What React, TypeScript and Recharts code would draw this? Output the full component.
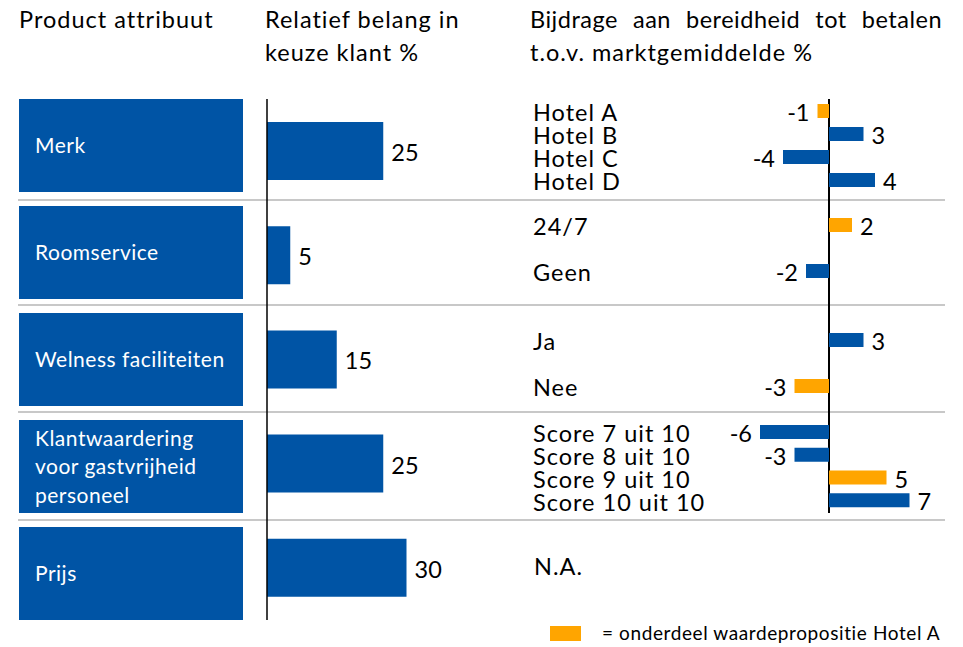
import React from 'react';
import { BarChart, Bar, XAxis, YAxis, LabelList, Cell } from 'recharts';

// ---------- data ----------
const attributes = ['Merk', 'Roomservice', 'Welness faciliteiten', 'Klantwaardering\nvoor gastvrijheid\npersoneel', 'Prijs'];
const importance = [25, 5, 15, 25, 30];

const hotelLabels = ['Hotel A', 'Hotel B', 'Hotel C', 'Hotel D'];
const hotelValues = [-1, 3, -4, 4];
const hotelHighlight = [true, false, false, false];

const roomLabels = ['24/7', 'Geen'];
const roomValues = [2, -2];
const roomHighlight = [true, false];

const wellLabels = ['Ja', 'Nee'];
const wellValues = [3, -3];
const wellHighlight = [false, true];

const scoreLabels = ['Score 7 uit 10', 'Score 8 uit 10', 'Score 9 uit 10', 'Score 10 uit 10'];
const scoreValues = [-6, -3, 5, 7];
const scoreHighlight = [false, false, true, false];

const headers = ['Product attribuut', 'Relatief belang in\nkeuze klant %', 'Bijdrage aan bereidheid tot betalen', 't.o.v. marktgemiddelde %'];
const naText = 'N.A.';
const legendText = '= onderdeel waardepropositie Hotel A';

// ---------- style ----------
const BLUE = '#0054A5';
const ORANGE = '#FFA500';
const GRAY = '#C8C8C8';
const FONT = 'Lato, "Open Sans", sans-serif';
const FS = 23.5;
const LS = 1;

const leftData = attributes.map((a, i) => ({ name: a, value: importance[i] }));

const PAD = 8;
const groups = [
  { labels: hotelLabels, values: hotelValues, hl: hotelHighlight, top: 99, height: 92 },
  { labels: roomLabels, values: roomValues, hl: roomHighlight, top: 202, height: 92 },
  { labels: wellLabels, values: wellValues, hl: wellHighlight, top: 317, height: 92 },
  { labels: scoreLabels, values: scoreValues, hl: scoreHighlight, top: 421, height: 91 },
];

const boxTops = [99, 206, 313, 420, 527];
const separators = [199, 304, 411, 519];

const LeftTick = () => null;

const RightTick = (props: any) => {
  const { y, payload } = props;
  return (
    <text x={0} y={y + 1} textAnchor="start" dominantBaseline="central" fontSize={FS} fontFamily={FONT} letterSpacing={LS} fill="#000">
      {payload.value}
    </text>
  );
};

const ValueLabel = (props: any) => {
  const { x, y, width, height, value } = props;
  const left = Math.min(x, x + width);
  const right = Math.max(x, x + width);
  const cy = y + height / 2 + 1;
  const neg = value < 0;
  return (
    <text
      x={neg ? left - 8 : right + 8}
      y={cy}
      textAnchor={neg ? 'end' : 'start'}
      dominantBaseline="central"
      fontSize={FS}
      fontFamily={FONT}
      fill="#000"
    >
      {value}
    </text>
  );
};

const textStyle: React.CSSProperties = { position: 'absolute', fontSize: FS, lineHeight: '33px', color: '#000', letterSpacing: LS, whiteSpace: 'pre-line' };

export default function App() {
  return (
    <div style={{ position: 'absolute', left: 0, top: 0, width: 963, height: 647, background: '#fff', fontFamily: FONT, overflow: 'hidden' }}>
      {/* headers */}
      <div style={{ ...textStyle, left: 19, top: 3 }}>{headers[0]}</div>
      <div style={{ ...textStyle, left: 265, top: 3 }}>{headers[1]}</div>
      <div style={{ ...textStyle, left: 530, top: 3, width: 412, textAlign: 'justify', textAlignLast: 'justify' as any, letterSpacing: 0.5 }}>{headers[2]}</div>
      <div style={{ ...textStyle, left: 530, top: 36 }}>{headers[3]}</div>

      {/* separators */}
      {separators.map((y, i) => (
        <div key={i} style={{ position: 'absolute', left: 18, top: y, width: 927, height: 1.5, background: GRAY }} />
      ))}

      {/* attribute boxes */}
      {attributes.map((a, i) => (
        <div
          key={a}
          style={{
            position: 'absolute', left: 19, top: boxTops[i], width: 224, height: 93, background: BLUE,
            color: '#fff', fontSize: 21, lineHeight: '28.5px', display: 'flex', alignItems: 'center',
            paddingLeft: 16, boxSizing: 'border-box', whiteSpace: 'pre-line', letterSpacing: 0.5,
          }}
        >
          {a}
        </div>
      ))}

      {/* left bar chart */}
      <div style={{ position: 'absolute', left: 19, top: 99 }}>
        <BarChart width={440} height={521} data={leftData} layout="vertical" margin={{ top: 0, right: 6, bottom: 0, left: 0 }}>
          <XAxis type="number" domain={[0, 40]} hide />
          <YAxis type="category" dataKey="name" width={248} tick={LeftTick as any} tickLine={false} axisLine={{ stroke: '#000', strokeWidth: 1.5 }} />
          <Bar dataKey="value" fill={BLUE} barSize={58} isAnimationActive={false}>
            <LabelList dataKey="value" content={ValueLabel as any} />
          </Bar>
        </BarChart>
      </div>

      {/* right axis line */}
      <div style={{ position: 'absolute', left: 828, top: 99, width: 1.5, height: 414, background: '#000' }} />

      {/* right bar charts */}
      {groups.map((g, gi) => {
        const data = g.labels.map((l, i) => ({ name: l, value: g.values[i] }));
        return (
          <div key={gi} style={{ position: 'absolute', left: 533, top: g.top - PAD }}>
            <BarChart width={420} height={g.height + 2 * PAD} data={data} layout="vertical" margin={{ top: PAD, right: 32, bottom: PAD, left: 0 }}>
              <XAxis type="number" domain={[-8, 8]} hide />
              <YAxis type="category" dataKey="name" width={204} tick={RightTick as any} tickLine={false} axisLine={false} interval={0} />
              <Bar dataKey="value" barSize={14} isAnimationActive={false}>
                {data.map((d, i) => (
                  <Cell key={i} fill={g.hl[i] ? ORANGE : BLUE} />
                ))}
                <LabelList dataKey="value" content={ValueLabel as any} />
              </Bar>
            </BarChart>
          </div>
        );
      })}

      {/* N.A. */}
      <div style={{ ...textStyle, left: 534, top: 551, lineHeight: '30px' }}>{naText}</div>

      {/* legend */}
      <div style={{ position: 'absolute', left: 550, top: 626, width: 31, height: 15, background: ORANGE }} />
      <div style={{ position: 'absolute', left: 602, top: 621, fontSize: 19, lineHeight: '24px', color: '#000', letterSpacing: 0.6 }}>{legendText}</div>
    </div>
  );
}
